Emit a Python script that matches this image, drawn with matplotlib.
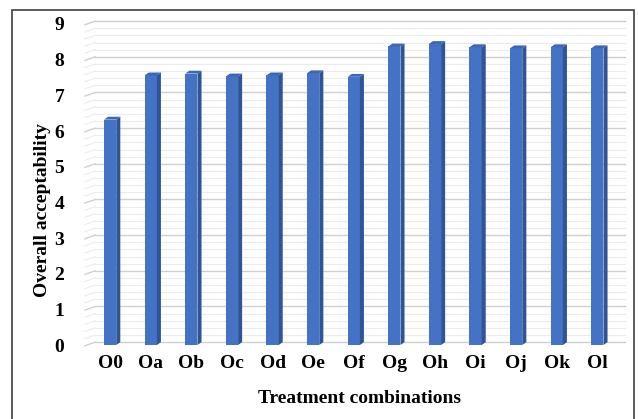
import matplotlib
matplotlib.use('Agg')
import matplotlib.pyplot as plt
from matplotlib.patches import Polygon, Rectangle
import numpy as np

treatments = ['O0', 'Oa', 'Ob', 'Oc', 'Od', 'Oe', 'Of',
              'Og', 'Oh', 'Oi', 'Oj', 'Ok', 'Ol']
acceptability = [6.32, 7.56, 7.61, 7.53, 7.56, 7.62, 7.52,
                 8.37, 8.44, 8.35, 8.32, 8.35, 8.32]

FRONT = '#4472c4'
SIDE = '#2f5597'
TOP = '#3d67b3'
BAR_W = 0.3
DX, DY = 0.1, 0.08   # depth of the column side / top faces

plt.rcParams['font.family'] = ['Liberation Serif', 'DejaVu Serif']

fig = plt.figure(figsize=(6.38, 4.19), dpi=100)
ax = fig.add_axes([85 / 638, 1 - 345 / 419, (625 - 85) / 638, (345 - 24) / 419])

x = np.arange(len(treatments))
ax.set_xlim(-0.62, 12.68)
ax.set_ylim(0, 9)

# back wall grid with perspective stubs on the left side wall
wall_x0 = -0.37
for v in np.arange(0, 9.01, 0.2):
    major = abs(v - round(v)) < 1e-6
    col = '#d0d0d0' if major else '#ececec'
    lw = 1.0 if major else 0.8
    ax.plot([wall_x0, 12.68], [v + DY, v + DY], color=col, lw=lw,
            clip_on=False, zorder=1)
    ax.plot([-0.62, wall_x0], [v - 0.02, v + DY], color=col, lw=lw,
            clip_on=False, zorder=1)

# columns: front face + darker side + top
ax.bar(x, acceptability, width=BAR_W, color=FRONT, zorder=3)
for xi, v in zip(x, acceptability):
    r = xi + BAR_W / 2
    l = xi - BAR_W / 2
    ax.add_patch(Polygon([[r, 0], [r + DX, DY], [r + DX, v + DY], [r, v]],
                         closed=True, facecolor=SIDE, edgecolor='none', zorder=3))
    ax.add_patch(Polygon([[l, v], [l + DX, v + DY], [r + DX, v + DY], [r, v]],
                         closed=True, facecolor=TOP, edgecolor='none', zorder=3))

for s in ax.spines.values():
    s.set_visible(False)
ax.tick_params(length=0)
ax.set_xticks(x)
ax.set_xticklabels(treatments, fontsize=14, fontweight='bold')
ax.set_yticks(range(10))
ax.set_yticklabels([str(i) for i in range(10)], fontsize=14, fontweight='bold')
ax.tick_params(axis='y', pad=15)
ax.tick_params(axis='x', pad=7)
ax.set_xlabel('Treatment combinations', fontsize=14, fontweight='bold', va='center')
ax.set_ylabel('Overall acceptability', fontsize=14, fontweight='bold', va='center')
ax.xaxis.set_label_coords((359 - 85) / 540, (345 - 398) / 321)
ax.yaxis.set_label_coords((43 - 85) / 540, (345 - 210) / 321)

# outer chart frame
fig.add_artist(Rectangle((12 / 638, -0.05), (634 - 12) / 638, 1.05 - 10 / 419,
                         transform=fig.transFigure, fill=False,
                         edgecolor='#404040', lw=1.2))

fig.savefig('out.png', dpi=100)
